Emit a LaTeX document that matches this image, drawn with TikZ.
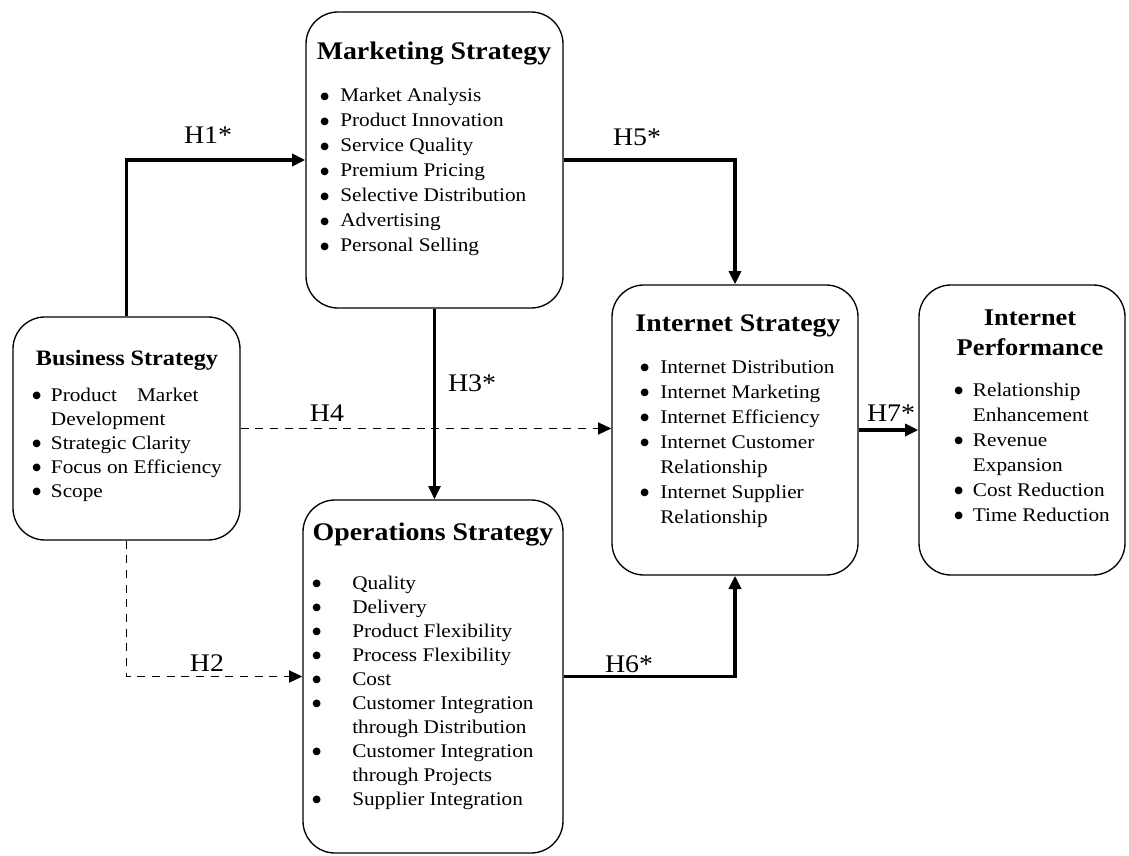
\documentclass[tikz,border=0pt]{standalone}
\usepackage{fontspec}
\setmainfont{Liberation Serif}[FakeStretch=1.1]
\newfontfamily\symfont{DejaVu Sans}
\usetikzlibrary{arrows.meta}
% bullet column width for the lists
\newlength{\bw}
\newcommand{\bdot}{\raisebox{1.6pt}{\symfont\fontsize{7.5}{7.5}\selectfont ●}}
\newcommand{\bitem}[1]{\hbox{\makebox[\bw][l]{\bdot}#1}}
\newcommand{\bcont}[1]{\hbox{\hspace*{\bw}#1}}
% #1 bullet column, #2 line pitch, #3 lines
\newcommand{\blist}[3]{\vtop{\setlength{\bw}{#1}\baselineskip=#2\lineskiplimit=-30pt #3}}
\begin{document}
\begin{tikzpicture}[x=0.75pt,y=-0.75pt,
  box/.style={draw, line width=1pt, rounded corners=24pt, inner sep=0pt},
  ttl/.style={font=\bfseries\fontsize{19}{22}\selectfont, inner sep=0pt, anchor=base},
  lst/.style={font=\fontsize{14.5}{17}\selectfont, inner sep=0pt, anchor=base west},
  hyp/.style={font=\fontsize{19}{22}\selectfont, inner sep=0pt},
  solidarr/.style={line width=2.5pt, -{Triangle[length=10pt,width=9pt]}},
  dasharr/.style={line width=1.4pt, dash pattern=on 6pt off 5pt, -{Triangle[length=10pt,width=9pt]}},
]
\useasboundingbox (0,0) rectangle (1129,856);

% construct boxes
\node[box, minimum width=170.25pt, minimum height=167.25pt] (bs) at (126.5,428.5) {};
\node[box, minimum width=192.75pt, minimum height=222pt]    (ms) at (434.5,160) {};
\node[box, minimum width=195pt,    minimum height=264.75pt] (os) at (433,676.5) {};
\node[box, minimum width=184.5pt,  minimum height=217.5pt]  (is) at (735,430) {};
\node[box, minimum width=154.5pt,  minimum height=217.5pt]  (ip) at (1022,430) {};

% titles
\node[ttl, font=\bfseries\fontsize{16.5}{20}\selectfont] (bsT) at (127,365) {Business Strategy};
\node[ttl] (msT) at (434,60) {Marketing Strategy};
\node[ttl] (osT) at (433,540) {Operations Strategy};
\node[ttl] (isT) at (738,331) {Internet Strategy};
\node[ttl, font=\bfseries\fontsize{18}{22.5}\selectfont, align=center] (ipT) at (1030,355) {Internet\\Performance};

% item lists
\node[lst] (bsL) at (32,401) {\blist{14pt}{18pt}{%
  \bitem{Product\hspace{15pt}Market}
  \bcont{Development}
  \bitem{Strategic Clarity}
  \bitem{Focus on Efficiency}
  \bitem{Scope}}};
\node[lst] (msL) at (320,102) {\blist{15pt}{18.75pt}{%
  \bitem{Market Analysis}
  \bitem{Product Innovation}
  \bitem{Service Quality}
  \bitem{Premium Pricing}
  \bitem{Selective Distribution}
  \bitem{Advertising}
  \bitem{Personal Selling}}};
\node[lst] (osL) at (312,589) {\blist{30pt}{18pt}{%
  \bitem{Quality}
  \bitem{Delivery}
  \bitem{Product Flexibility}
  \bitem{Process Flexibility}
  \bitem{Cost}
  \bitem{Customer Integration}
  \bcont{through Distribution}
  \bitem{Customer Integration}
  \bcont{through Projects}
  \bitem{Supplier Integration}}};
\node[lst] (isL) at (640,373) {\blist{15pt}{18.75pt}{%
  \bitem{Internet Distribution}
  \bitem{Internet Marketing}
  \bitem{Internet Efficiency}
  \bitem{Internet Customer}
  \bcont{Relationship}
  \bitem{Internet Supplier}
  \bcont{Relationship}}};
\node[lst] (ipL) at (954,396) {\blist{14pt}{18.75pt}{%
  \bitem{Relationship}
  \bcont{Enhancement}
  \bitem{Revenue}
  \bcont{Expansion}
  \bitem{Cost Reduction}
  \bitem{Time Reduction}}};

% hypothesised links
\draw[solidarr] (bs.north) |- (ms.west);
\draw[solidarr] (ms.east) -| (is.north);
\draw[solidarr, line width=2pt] (ms.south) -- (ms.south |- os.north);
\draw[dasharr] (bs.east) -- (bs.east -| is.west);
\draw[dasharr] (bs.south) |- (os.west);
\draw[solidarr] (os.east) -| (is.south);
\draw[solidarr] (is.east) -- (ip.west);

% link labels
\node[hyp] (h1) at (208,135) {H1*};
\node[hyp] (h5) at (637,137) {H5*};
\node[hyp] (h3) at (472,383) {H3*};
\node[hyp] (h4) at (327,413) {H4};
\node[hyp] (h2) at (207,663) {H2};
\node[hyp] (h6) at (629,664) {H6*};
\node[hyp] (h7) at (891,413) {H7*};
\end{tikzpicture}
\end{document}
